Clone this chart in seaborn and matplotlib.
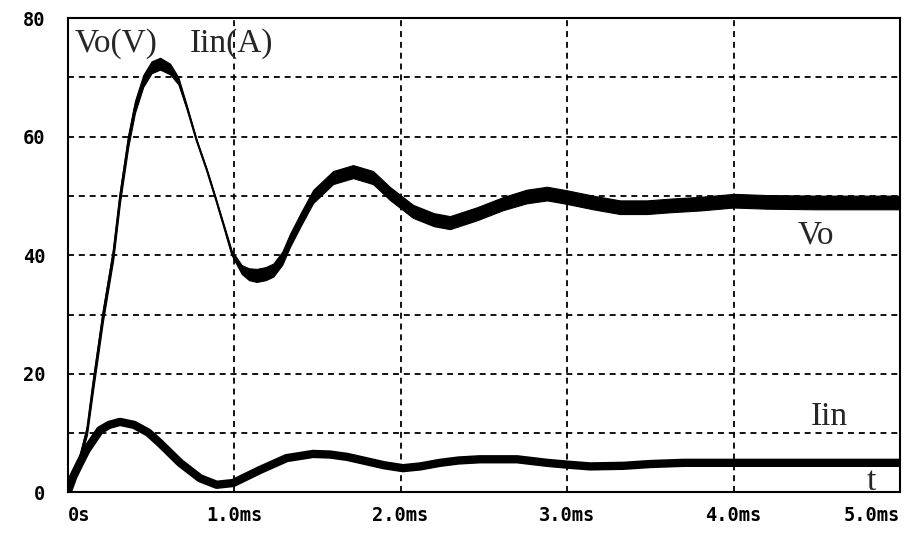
import numpy as np
import pandas as pd
import matplotlib
matplotlib.use("Agg")
import matplotlib.pyplot as plt
import seaborn as sns

# ---- data (time in ms) ----
vo_time = [0.0, 0.035, 0.075, 0.117, 0.155, 0.213, 0.275, 0.315, 0.365, 0.405, 0.455,
           0.505, 0.556, 0.616, 0.666, 0.716, 0.776, 0.836, 0.886, 0.936, 0.986,
           1.046, 1.09, 1.136, 1.19, 1.236, 1.29, 1.336,
           1.40, 1.475, 1.595, 1.715, 1.835, 1.937, 2.075, 2.20, 2.297, 2.46, 2.615,
           2.757, 2.88, 3.0, 3.156, 3.318, 3.48, 3.62, 3.8, 4.0, 4.2, 4.5, 4.8, 5.0]
vo_value = [0.0, 2.1, 6.0, 10.5, 18.5, 29.9, 40.3, 49.8, 59.3, 65.0, 69.4,
            71.7, 72.3, 71.4, 69.4, 65.0, 59.3, 54.4, 49.9, 45.2, 40.4,
            37.6, 36.8, 36.6, 36.9, 37.5, 39.5, 42.5,
            46.0, 49.9, 53.1, 54.1, 53.1, 50.4, 47.4, 46.0, 45.5, 47.0, 48.7,
            49.9, 50.4, 49.8, 48.9, 48.1, 48.1, 48.4, 48.7, 49.2, 49.0, 48.9, 48.9, 48.9]
vo_ripple = [0.0, 0.5, 1.0, 1.5, 2.0, 2.0, 2.0, 2.0, 2.0, 2.0, 2.0,
             2.0, 2.0, 1.8, 1.2, 0.6, 0.3, 0.3, 0.3, 0.4, 0.8,
             1.5, 2.0, 2.2, 2.2, 2.2, 2.2, 2.2,
             2.2, 2.2, 2.2, 2.2, 2.2, 2.2, 2.2, 2.2, 2.2, 2.2, 2.2,
             2.3, 2.3, 2.3, 2.3, 2.3, 2.3, 2.3, 2.3, 2.3, 2.3, 2.3, 2.3, 2.3]

iin_time = [0.0, 0.035, 0.075, 0.115, 0.195, 0.25, 0.315, 0.40, 0.485, 0.556, 0.676,
            0.796, 0.896, 0.995, 1.156, 1.316, 1.475, 1.577, 1.68, 1.775, 1.9, 2.015,
            2.12, 2.237, 2.35, 2.477, 2.7, 2.88, 3.0, 3.138, 3.34, 3.5, 3.7, 4.0, 4.5, 5.0]
iin_value = [0.0, 2.7, 5.0, 7.2, 10.5, 11.4, 11.9, 11.4, 10.1, 8.3, 5.0,
             2.4, 1.3, 1.6, 3.8, 5.8, 6.5, 6.4, 6.0, 5.4, 4.6, 4.1,
             4.4, 5.0, 5.4, 5.6, 5.6, 5.0, 4.7, 4.4, 4.5, 4.8, 5.0, 5.0, 5.0, 5.0]

x_ticks = [0, 1, 2, 3, 4, 5]
x_tick_labels = ["0s", "1.0ms", "2.0ms", "3.0ms", "4.0ms", "5.0ms"]
y_ticks = [0, 20, 40, 60, 80]
y_tick_labels = ["0", "20", "40", "60", "80"]
y_minor = [10, 30, 50, 70]

# ---- style ----
sns.set_style("white")
plt.rcParams['font.family'] = ['DejaVu Sans']

fig = plt.figure(figsize=(9.05, 5.33), dpi=100)
ax = fig.add_axes([0.0746, 0.076, 0.9199, 0.8902])

vo = pd.DataFrame({"t": vo_time, "v": vo_value, "r": vo_ripple})
iin = pd.DataFrame({"t": iin_time, "v": iin_value})

ax.fill_between(vo["t"], vo["v"] - vo["r"] / 2, vo["v"] + vo["r"] / 2,
                color="black", lw=0.8, zorder=3)
sns.lineplot(data=vo, x="t", y="v", color="black", lw=1.4, ax=ax,
             sort=False, estimator=None, zorder=3)
sns.lineplot(data=iin, x="t", y="v", color="black", lw=6.0, ax=ax,
             sort=False, estimator=None, zorder=3)

ax.set_xlim(0, 5)
ax.set_ylim(0, 80)
ax.set_xlabel("")
ax.set_ylabel("")

ax.set_xticks(x_ticks)
ax.set_xticklabels(x_tick_labels)
ax.set_yticks(y_ticks)
ax.set_yticklabels(y_tick_labels)
ax.set_yticks(y_minor, minor=True)

for lab in ax.get_xticklabels() + ax.get_yticklabels():
    lab.set_fontfamily("DejaVu Sans Mono")
    lab.set_fontweight("bold")
    lab.set_fontsize(13.5)
xl = ax.get_xticklabels()
xl[0].set_ha("left")
xl[-1].set_ha("right")

ax.tick_params(axis="x", which="both", direction="in", length=7, width=1.2,
               pad=10, colors="black")
ax.tick_params(axis="y", which="both", direction="in", length=0, width=1.2,
               pad=16, colors="black")

ax.grid(True, which="both", color="black", lw=1.3, linestyle=(0, (3.3, 2.7)))
ax.set_axisbelow(True)

for s in ax.spines.values():
    s.set_color("black")
    s.set_linewidth(1.5)
    s.set_visible(True)

serif = ["Liberation Serif", "DejaVu Serif"]
fig.text(75 / 905, 1 - 52 / 533, "Vo(V)", family=serif, size=24, va="baseline", ha="left")
fig.text(190 / 905, 1 - 52 / 533, "Iin(A)", family=serif, size=24, va="baseline", ha="left")
fig.text(798 / 905, 1 - 243 / 533, "Vo", family=serif, size=24, va="baseline", ha="left")
fig.text(811 / 905, 1 - 425 / 533, "Iin", family=serif, size=24, va="baseline", ha="left")
fig.text(867 / 905, 1 - 490 / 533, "t", family=serif, size=24, va="baseline", ha="left")

fig.savefig("out.png", dpi=100, facecolor="white")
